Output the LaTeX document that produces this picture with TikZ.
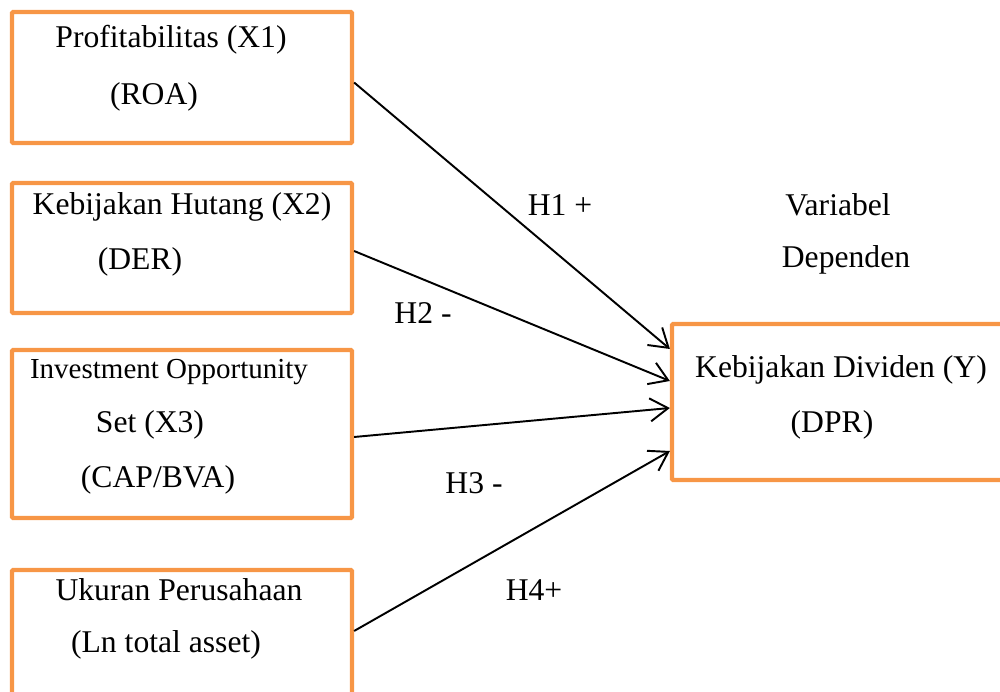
\documentclass[tikz,border=0pt]{standalone}
\usepackage{fontspec}
\setmainfont{Liberation Serif}
\usepackage{tikz}
\usetikzlibrary{arrows.meta,positioning,calc}

\definecolor{boxorange}{HTML}{F79646}

\begin{document}
\begin{tikzpicture}[>={Straight Barb[length=3.6mm,width=4.6mm]}, line width=1.1pt,
  every node/.style={font=\fontsize{18}{22}\selectfont, inner sep=0pt},
  varbox/.style={draw=boxorange, line width=2.4pt, rounded corners=0.6pt, minimum width=6.8cm}]
\useasboundingbox (0,0) rectangle (20,-13.84);
\clip (0,0) rectangle (20,-13.84);

% boxes
\node[varbox, minimum height=2.62cm] (x1) at (3.64,-1.55) {};
\node[varbox, minimum height=2.6cm] (x2) at (3.64,-4.96) {};
\node[varbox, minimum height=3.36cm] (x3) at (3.64,-8.68) {};
\node[varbox, minimum height=3.0cm] (x4) at (3.64,-12.9) {};
\node[varbox, minimum width=6.76cm, minimum height=3.12cm] (y) at (16.82,-8.04) {};

% texts
\node (x1a) at (3.42,-0.80) {Profitabilitas (X1)};
\node (x1b) at (3.08,-1.94) {(ROA)};
\node (x2a) at (3.64,-4.14) {Kebijakan Hutang (X2)};
\node (x2b) at (2.80,-5.24) {(DER)};
\node[font=\fontsize{16.5}{20}\selectfont] (x3a) at (3.38,-7.44) {Investment Opportunity};
\node (x3b) at (3.00,-8.50) {Set (X3)};
\node (x3c) at (3.16,-9.60) {(CAP/BVA)};
\node (x4a) at (3.58,-11.80) {Ukuran Perusahaan};
\node (x4b) at (3.32,-12.90) {(Ln total asset)};
\node (ya) at (16.82,-7.40) {Kebijakan Dividen (Y)};
\node (yb) at (16.64,-8.50) {(DPR)};
\node (dep1) at (16.76,-4.10) {Variabel};
\node (dep2) at (16.92,-5.20) {Dependen};

% paths
\draw[->] ([yshift=-0.1cm]x1.east) -- ([yshift=1.06cm]y.west);
\draw[->] ([yshift=-0.06cm]x2.east) -- ([yshift=0.42cm]y.west);
\draw[->] ([yshift=-0.06cm]x3.east) -- ([yshift=-0.12cm]y.west);
\draw[->] ([yshift=0.28cm]x4.east) -- ([yshift=-0.98cm]y.west);

\node (h1) at (11.2,-4.10) {H1 +};
\node (h2) at (8.46,-6.26) {H2 -};
\node (h3) at (9.48,-9.66) {H3 -};
\node (h4) at (10.68,-11.80) {H4+};
\end{tikzpicture}
\end{document}
